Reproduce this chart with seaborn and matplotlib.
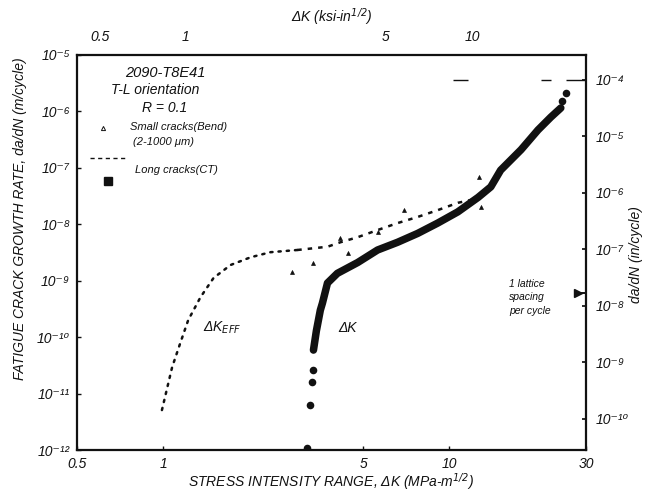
import numpy as np
import pandas as pd
import matplotlib
matplotlib.use("Agg")
import matplotlib.pyplot as plt
import seaborn as sns

# --- data -------------------------------------------------------------
# Long-crack (CT) growth rate vs. applied Delta K, continuous band
dk_long = [3.35, 3.43, 3.54, 3.60, 3.75, 4.06, 4.78, 5.61, 6.59, 7.75,
           9.10, 10.7, 12.6, 13.95, 15.1, 17.8, 20.4, 22.6, 24.5]
rate_long = [5.9e-11, 1.3e-10, 3.0e-10, 4.0e-10, 9.1e-10, 1.35e-9, 2.1e-9,
             3.5e-9, 4.8e-9, 6.9e-9, 1.05e-8, 1.66e-8, 3.0e-8, 4.6e-8,
             9.1e-8, 2.1e-7, 4.7e-7, 7.9e-7, 1.15e-6]
# isolated near-threshold and final points of the same test
dk_long_pts = [3.19, 3.27, 3.32, 3.33, 25.5, 24.8]
rate_long_pts = [1.1e-12, 6.2e-12, 1.6e-11, 2.6e-11, 2.1e-6, 1.5e-6]

# Long cracks, closure-corrected Delta K_eff
dk_eff = [0.99, 1.075, 1.147, 1.223, 1.35, 1.50, 1.72, 2.02, 2.37, 2.94]
rate_eff = [5.1e-12, 2.95e-11, 7.8e-11, 2.0e-10, 5.1e-10, 1.12e-9,
            1.9e-9, 2.6e-9, 3.2e-9, 3.5e-9]
# long-crack trend continuing to higher Delta K
dk_ct = [2.94, 3.75, 4.16, 4.78, 5.61, 6.59, 7.75, 9.10, 10.7, 11.9]
rate_ct = [3.5e-9, 4.0e-9, 4.8e-9, 5.9e-9, 7.9e-9, 1.05e-8, 1.35e-8,
           1.78e-8, 2.4e-8, 2.7e-8]

# Small cracks (bend), 2-1000 um
dk_small = [2.83, 3.35, 4.16, 4.41, 5.61, 6.92, 12.9, 12.7]
rate_small = [1.4e-9, 2.1e-9, 5.7e-9, 3.1e-9, 7.2e-9, 1.8e-8, 2.0e-8, 6.9e-8]

# one lattice spacing per cycle
lattice_rate = 6.0e-10
lattice_dk = [28.1, 30.0]

# reference level at 1e-4 in/cycle
ref_in = 1e-4
ref_x0 = [10.3, 20.9, 25.5]
ref_x1 = [11.6, 22.6, 30.0]

x_ticks = [0.5, 1, 5, 10, 30]
x_ticklabels = ["0.5", "1", "5", "10", "30"]
ksi_ticks = [0.5, 1, 5, 10]
ksi_ticklabels = ["0.5", "1", "5", "10"]
y_ticks = [1e-12, 1e-11, 1e-10, 1e-9, 1e-8, 1e-7, 1e-6, 1e-5]
y_ticklabels = ["10⁻¹²", "10⁻¹¹", "10⁻¹⁰", "10⁻⁹", "10⁻⁸", "10⁻⁷", "10⁻⁶", "10⁻⁵"]
yin_ticks = [1e-10, 1e-9, 1e-8, 1e-7, 1e-6, 1e-5, 1e-4]
yin_ticklabels = ["10⁻¹⁰", "10⁻⁹", "10⁻⁸", "10⁻⁷", "10⁻⁶", "10⁻⁵", "10⁻⁴"]

# --- style ------------------------------------------------------------
sns.set_theme(style="ticks")
plt.rcParams["font.family"] = ["Liberation Sans", "DejaVu Sans"]
plt.rcParams["font.style"] = "italic"
plt.rcParams["mathtext.default"] = "it"

fig = plt.figure(figsize=(6.46, 4.95), dpi=100)
ax = fig.add_axes([0.1192, 0.0909, 0.7879, 0.7980])

ink = "#111111"

df_long = pd.DataFrame({"dk": dk_long, "rate": rate_long})
sns.lineplot(data=df_long, x="dk", y="rate", ax=ax, color=ink, lw=5.4,
             solid_capstyle="round", solid_joinstyle="round", sort=False)
sns.scatterplot(x=dk_long_pts, y=rate_long_pts, ax=ax, color=ink, s=30,
                marker="o", edgecolor=ink, linewidth=0)

sns.lineplot(x=dk_eff, y=rate_eff, ax=ax, color=ink, lw=1.8, sort=False,
             linestyle=(0, (0.9, 2.4)), dash_capstyle="round")
sns.lineplot(x=dk_ct, y=rate_ct, ax=ax, color=ink, lw=1.8, sort=False,
             linestyle=(0, (1.8, 2.4)))

sns.scatterplot(x=dk_small, y=rate_small, ax=ax, color=ink, s=8,
                marker="^", edgecolor=ink, linewidth=0.5)

ax.set_xscale("log")
ax.set_yscale("log")
ax.set_xlim(0.5, 30)
ax.set_ylim(1e-12, 1e-5)
ax.set_xticks(x_ticks)
ax.set_xticklabels(x_ticklabels)
ax.set_yticks(y_ticks)
ax.set_yticklabels(y_ticklabels)
ax.minorticks_off()
ax.tick_params(axis="both", direction="in", length=3, width=1, labelsize=10,
               colors=ink, pad=5)

for s in ax.spines.values():
    s.set_linewidth(1.6)
    s.set_color(ink)

ax.set_xlabel("STRESS INTENSITY RANGE, ΔK (MPa-m$^{1/2}$)", fontsize=10,
              color=ink)
ax.xaxis.set_label_coords(0.50, -0.054)
ax.set_ylabel("FATIGUE CRACK GROWTH RATE, da/dN (m/cycle)", fontsize=10,
              color=ink)
ax.yaxis.set_label_coords(-0.098, 0.585)

# upper scale in ksi-in^1/2
top = ax.secondary_xaxis("top", functions=(lambda v: v / 1.2,
                                           lambda v: v * 1.2))
top.set_xticks(ksi_ticks)
top.set_xticklabels(ksi_ticklabels)
top.minorticks_off()
top.tick_params(direction="in", length=0, labelsize=10, colors=ink, pad=8)
top.set_xlabel("ΔK (ksi-in$^{1/2}$)", fontsize=10, color=ink, labelpad=6)

# right scale in in/cycle
ax2 = ax.twinx()
ax2.set_yscale("log")
ax2.set_ylim(10 ** -10.557, 10 ** -3.557)
ax2.set_yticks(yin_ticks)
ax2.set_yticklabels(yin_ticklabels)
ax2.minorticks_off()
ax2.tick_params(axis="y", direction="in", length=3, labelsize=10,
                colors=ink, pad=7)
for s in ax2.spines.values():
    s.set_visible(False)
ax2.hlines([ref_in] * len(ref_x0), ref_x0, ref_x1, colors=ink, lw=1.0)
fig.text(0.984, 0.485, "da/dN (in/cycle)", rotation=90, fontsize=10,
         color=ink, ha="center", va="center")

# lattice spacing marker
ax.plot(lattice_dk, [lattice_rate] * 2, color=ink, lw=1.4)
ax.plot(lattice_dk[0], lattice_rate, marker=">", ms=6, color=ink)
ax.text(0.849, 0.387, "1 lattice\nspacing\nper cycle", transform=ax.transAxes,
        fontsize=7.5, color=ink, va="center", ha="left", linespacing=1.45)

# curve labels
ax.text(0.248, 0.309, "ΔK$_{EFF}$", transform=ax.transAxes, fontsize=10,
        color=ink, va="center")
ax.text(0.513, 0.309, "ΔK", transform=ax.transAxes, fontsize=10,
        color=ink, va="center")

# material block and key
ax.text(0.173, 0.954, "2090-T8E41", transform=ax.transAxes, fontsize=10.5,
        color=ink, ha="center", va="center")
ax.text(0.153, 0.911, "T-L orientation", transform=ax.transAxes,
        fontsize=10, color=ink, ha="center", va="center")
ax.text(0.173, 0.866, "R = 0.1", transform=ax.transAxes, fontsize=10,
        color=ink, ha="center", va="center")
ax.plot([0.051], [0.815], marker="^", ms=3, mfc="none", mec=ink, mew=0.7,
        transform=ax.transAxes)
ax.text(0.104, 0.818, "Small cracks(Bend)", transform=ax.transAxes,
        fontsize=8, color=ink, ha="left", va="center")
ax.text(0.110, 0.780, "(2-1000 μm)", transform=ax.transAxes,
        fontsize=8, color=ink, ha="left", va="center")
ax.plot([0.026, 0.098], [0.739, 0.739], transform=ax.transAxes, color=ink,
        lw=1.0, linestyle=(0, (3, 2.5)))
ax.text(0.114, 0.709, "Long cracks(CT)", transform=ax.transAxes,
        fontsize=8, color=ink, ha="left", va="center")
ax.plot([0.061], [0.681], marker="s", ms=6, color=ink,
        transform=ax.transAxes)

fig.savefig("out.png", dpi=100)
